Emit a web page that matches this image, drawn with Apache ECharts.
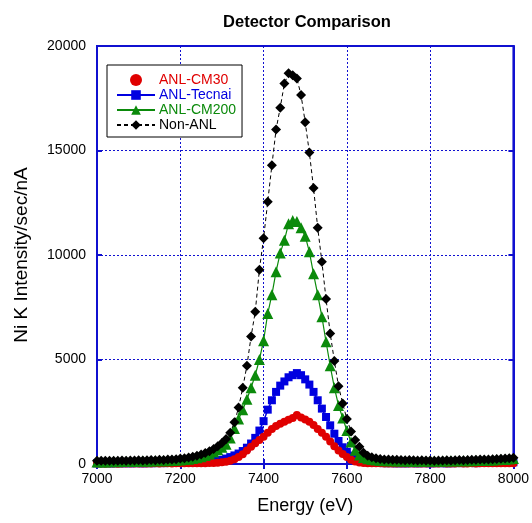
<!DOCTYPE html>
<html>
<head>
<meta charset="utf-8">
<script src="https://cdn.jsdelivr.net/npm/echarts@6/dist/echarts.min.js"></script>
<style>
html,body{margin:0;padding:0;background:#fff;}
#chart{width:532px;height:523px;}
</style>
</head>
<body>
<div id="chart"></div>
<script>
var titleText = 'Detector Comparison';
var xName = 'Energy (eV)';
var yName = 'Ni K Intensity/sec/nA';
var xTicks = [7000, 7200, 7400, 7600, 7800, 8000];
var yTicks = [0, 5000, 10000, 15000, 20000];

var energy = [
7000,7010,7020,7030,7040,7050,7060,7070,7080,7090,
7100,7110,7120,7130,7140,7150,7160,7170,7180,7190,
7200,7210,7220,7230,7240,7250,7260,7270,7280,7290,
7300,7310,7320,7330,7340,7350,7360,7370,7380,7390,
7400,7410,7420,7430,7440,7450,7460,7470,7480,7490,
7500,7510,7520,7530,7540,7550,7560,7570,7580,7590,
7600,7610,7620,7630,7640,7650,7660,7670,7680,7690,
7700,7710,7720,7730,7740,7750,7760,7770,7780,7790,
7800,7810,7820,7830,7840,7850,7860,7870,7880,7890,
7900,7910,7920,7930,7940,7950,7960,7970,7980,7990,
8000];

var cm30 = [
20,20,10,20,20,10,20,20,20,20,
20,20,20,20,30,20,30,30,20,30,
30,30,30,30,40,40,40,50,50,60,
80,110,160,230,330,470,640,820,990,1150,
1300,1500,1680,1820,1930,2020,2120,2200,2350,2220,
2130,2020,1870,1680,1500,1300,1080,850,650,480,
330,200,120,70,50,40,30,30,30,20,
20,20,20,20,20,20,20,20,20,20,
20,20,20,30,20,20,20,30,20,20,
30,20,30,30,30,30,30,40,30,40,
40];

var tecnai = [
30,30,40,30,30,40,30,40,30,40,
40,30,40,40,40,50,40,50,50,50,
50,60,60,70,70,80,90,100,120,150,
200,260,330,410,500,620,780,980,1250,1600,
2050,2600,3050,3450,3750,3950,4150,4250,4350,4250,
4050,3800,3450,3050,2650,2250,1850,1450,1100,800,
580,400,270,170,110,80,60,50,50,40,
40,40,30,40,30,40,40,30,40,40,
30,40,40,40,30,40,40,50,40,50,
50,40,50,50,60,50,60,60,70,70,
80];

var cm200 = [
100,110,100,110,120,110,120,120,130,120,
130,140,130,140,150,150,160,160,170,180,
190,210,230,260,300,350,410,480,570,680,
800,950,1250,1700,2150,2600,3100,3650,4250,5000,
5900,7200,8100,9200,10100,10700,11500,11650,11600,11300,
10900,10150,9100,8100,7050,5850,4700,3650,2800,2200,
1600,1050,660,430,310,250,210,190,170,160,
150,150,140,140,140,130,130,130,140,130,
130,140,130,140,140,150,140,150,160,150,
160,170,170,180,180,190,200,210,220,240,
260];

var nonAnl = [
150,160,150,160,160,150,170,160,170,170,
180,170,180,190,180,200,190,210,210,230,
260,280,310,350,400,460,530,610,720,850,
1000,1200,1500,2000,2700,3650,4700,6100,7280,9300,
10800,12550,14300,16000,17050,18200,18700,18600,18450,17650,
16350,14900,13200,11300,9680,7900,6250,4930,3720,2900,
2150,1560,1150,830,540,390,320,270,240,220,
210,200,200,190,180,190,180,170,180,170,
170,160,170,170,180,170,180,190,180,190,
200,200,210,210,220,230,240,250,260,280,
300];

var seriesNames = ['ANL-CM30', 'ANL-Tecnai', 'ANL-CM200', 'Non-ANL'];
var seriesColors = ['#e00000', '#0000e0', '#0b8a0b', '#000000'];

function pairs(ys) {
  var out = [];
  for (var i = 0; i < energy.length; i++) out.push([energy[i], ys[i]]);
  return out;
}
function plain(v) { return String(v); }

var FONT = '"Liberation Sans", Arial, Helvetica, sans-serif';
var BLUE = '#1010d0';

var chart = echarts.init(document.getElementById('chart'), null, {renderer: 'canvas'});
var option = {
  animation: false,
  backgroundColor: '#ffffff',
  title: {
    text: titleText,
    left: 302, top: 9, textAlign: 'center',
    textStyle: {fontFamily: FONT, fontSize: 16.5, fontWeight: 'bold', color: '#000'}
  },
  grid: {
    left: 97, right: 16, top: 46, bottom: 59,
    show: true, borderColor: BLUE, borderWidth: 2, backgroundColor: 'transparent'
  },
  legend: {
    orient: 'vertical', left: 107, top: 65,
    data: [
      {name: seriesNames[0], textStyle: {color: seriesColors[0]}},
      {name: seriesNames[1], textStyle: {color: seriesColors[1]}},
      {name: seriesNames[2], textStyle: {color: seriesColors[2]}},
      {name: seriesNames[3], textStyle: {color: seriesColors[3]}}
    ],
    itemWidth: 38, itemHeight: 12, itemGap: 1,
    padding: [8, 6, 5, 9],
    borderColor: '#000', borderWidth: 1, backgroundColor: '#fff',
    textStyle: {fontFamily: FONT, fontSize: 14, padding: [0, 0, 0, -1]}
  },
  xAxis: [{
    type: 'value', position: 'bottom',
    min: xTicks[0], max: xTicks[xTicks.length - 1], interval: xTicks[1] - xTicks[0],
    name: xName, nameLocation: 'middle', nameGap: 33,
    nameTextStyle: {fontFamily: FONT, fontSize: 18, color: '#000'},
    axisLine: {show: true, lineStyle: {color: BLUE, width: 2}},
    axisTick: {show: true, inside: true, length: 5, lineStyle: {color: BLUE, width: 2}},
    axisLabel: {fontFamily: FONT, fontSize: 14, color: '#000', margin: 8, formatter: plain},
    splitLine: {show: true, lineStyle: {color: BLUE, width: 1, type: [2, 2]}}
  }, {
    type: 'value', position: 'top',
    min: xTicks[0], max: xTicks[xTicks.length - 1], interval: xTicks[1] - xTicks[0],
    axisLine: {show: true, lineStyle: {color: BLUE, width: 2}},
    axisTick: {show: true, inside: true, length: 5, lineStyle: {color: BLUE, width: 2}},
    axisLabel: {show: false}, splitLine: {show: false}
  }],
  yAxis: [{
    type: 'value', position: 'left',
    min: yTicks[0], max: yTicks[yTicks.length - 1], interval: yTicks[1] - yTicks[0],
    name: yName, nameLocation: 'middle', nameGap: 66,
    nameTextStyle: {fontFamily: FONT, fontSize: 19, color: '#000'},
    axisLine: {show: true, lineStyle: {color: BLUE, width: 2}},
    axisTick: {show: true, inside: true, length: 5, lineStyle: {color: BLUE, width: 2}},
    axisLabel: {fontFamily: FONT, fontSize: 14, color: '#000', margin: 11, formatter: plain},
    splitLine: {show: true, lineStyle: {color: BLUE, width: 1, type: [2, 2]}}
  }, {
    type: 'value', position: 'right',
    min: yTicks[0], max: yTicks[yTicks.length - 1], interval: yTicks[1] - yTicks[0],
    axisLine: {show: true, lineStyle: {color: BLUE, width: 2}},
    axisTick: {show: true, inside: true, length: 5, lineStyle: {color: BLUE, width: 2}},
    axisLabel: {show: false}, splitLine: {show: false}
  }],
  series: [
    {
      name: seriesNames[1], type: 'line', data: pairs(tecnai),
      symbol: 'rect', symbolSize: 8, showAllSymbol: true,
      itemStyle: {color: seriesColors[1]},
      lineStyle: {color: seriesColors[1], width: 1.5}, z: 2
    },
    {
      name: seriesNames[0], type: 'scatter', data: pairs(cm30),
      symbol: 'circle', symbolSize: 8,
      itemStyle: {color: seriesColors[0], opacity: 1}, z: 3
    },
    {
      name: seriesNames[2], type: 'line', data: pairs(cm200),
      symbol: 'triangle', symbolSize: 11, showAllSymbol: true,
      itemStyle: {color: seriesColors[2]},
      lineStyle: {color: seriesColors[2], width: 1.2}, z: 4
    },
    {
      name: seriesNames[3], type: 'line', data: pairs(nonAnl),
      symbol: 'diamond', symbolSize: 10, showAllSymbol: true,
      itemStyle: {color: seriesColors[3]},
      lineStyle: {color: seriesColors[3], width: 1, type: [4, 3]}, z: 5
    }
  ]
};
chart.setOption(option);
</script>
</body>
</html>
